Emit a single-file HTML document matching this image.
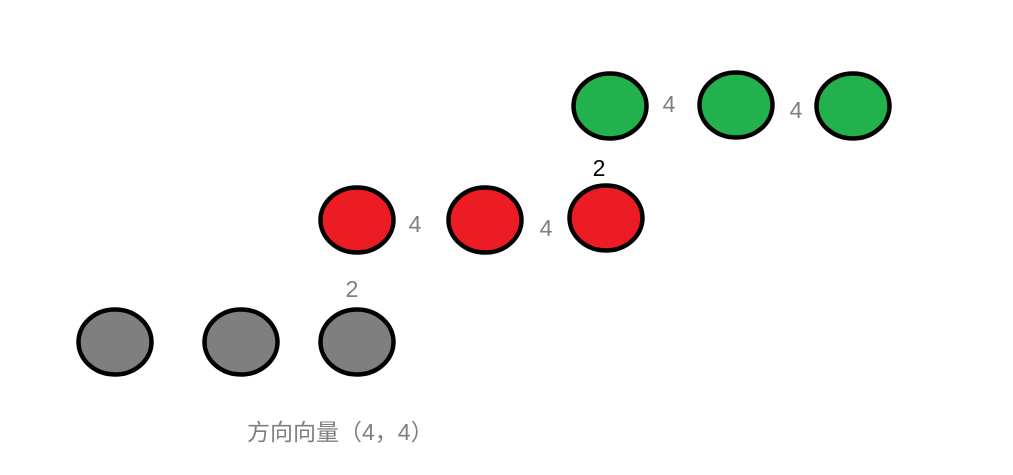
<!DOCTYPE html>
<html><head><meta charset="utf-8"><style>
html,body{margin:0;padding:0;background:#fff;width:1013px;height:475px;overflow:hidden}
text{font-family:"Liberation Sans","Noto Sans CJK SC",sans-serif}
</style></head><body>
<svg width="1013" height="475">
<g id="dots"></g>
<g id="labels"></g>
<text x="247" y="440" font-size="23" fill="#7f7f7f">方向向量（4，4）</text>
</svg>
<script>
const dotX=[115,241,357,357,485,606,610,736,853];
const dotY=[342,342,342,220,220,218,106,105,106];
const dotColor=['#7f7f7f','#7f7f7f','#7f7f7f','#ed1c24','#ed1c24','#ed1c24','#22b14c','#22b14c','#22b14c'];
const labelText=['2','4','4','2','4','4'];
const labelX=[352,415,546,599,669,796];
const labelY=[297,232,236,176,112,118];
const labelColor=['#7f7f7f','#7f7f7f','#7f7f7f','#000','#7f7f7f','#7f7f7f'];
const NS='http://www.w3.org/2000/svg';
const g=document.getElementById('dots');
dotX.forEach((x,i)=>{
 const e=document.createElementNS(NS,'ellipse');
 e.setAttribute('cx',x);e.setAttribute('cy',dotY[i]);
 e.setAttribute('rx',36.5);e.setAttribute('ry',32.5);
 e.setAttribute('fill',dotColor[i]);e.setAttribute('stroke','#000');e.setAttribute('stroke-width',4.5);
 
 
 g.appendChild(e);
});
const l=document.getElementById('labels');
labelText.forEach((t,i)=>{
 const e=document.createElementNS(NS,'text');
 e.setAttribute('x',labelX[i]);e.setAttribute('y',labelY[i]);
 e.setAttribute('font-size',23);e.setAttribute('fill',labelColor[i]);
 e.setAttribute('text-anchor','middle');
 e.textContent=t;
 
 
 l.appendChild(e);
});
</script>
</body></html>
